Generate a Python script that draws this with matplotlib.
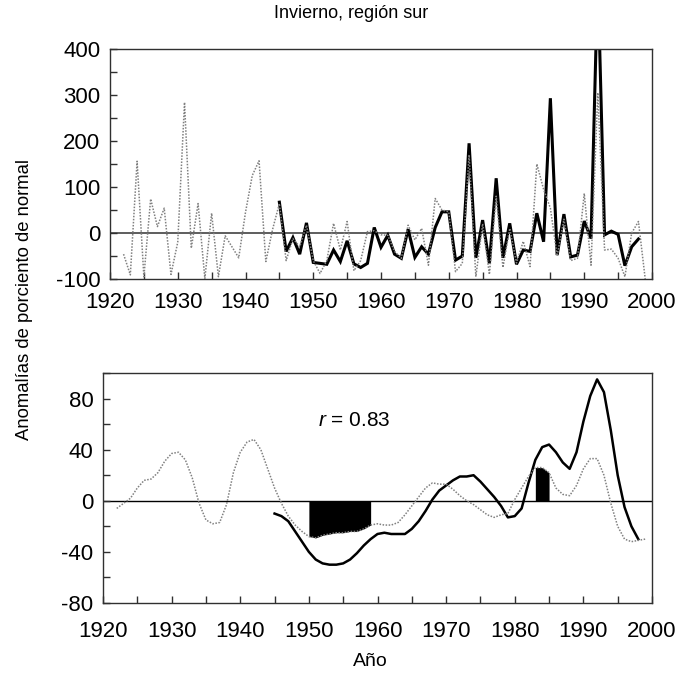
import numpy as np
import matplotlib
matplotlib.use("Agg")
import matplotlib.pyplot as plt
from matplotlib.ticker import MultipleLocator

plt.rcParams['font.family'] = ['Liberation Sans', 'DejaVu Sans']
plt.rcParams['mathtext.fontset'] = 'custom'
plt.rcParams['mathtext.it'] = 'Liberation Sans:italic'
plt.rcParams['mathtext.rm'] = 'Liberation Sans'
plt.rcParams['axes.unicode_minus'] = False

# ---- Top panel: annual anomalies ----
years_obs = list(range(1922, 2000))
obs_annual = [-46, -91, 156, -95, 74, 14, 54, -90, -20, 284,
              -33, 64, -99, 43, -95, -6, -30, -54, 45, 125,
              157, -62, 8, 64, -60, -12, -30, 17, -60, -88,
              -60, 21, -37, 25, -82, -60, 3, 5, -4, -5,
              -40, -55, 17, -15, 10, -70, 75, 50, 46, -84,
              -66, 170, -95, 20, -90, 80, -75, 10, -65, -18,
              -73, 150, 95, 54, -50, 30, -60, -55, 86, -70,
              305, -37, -35, -55, -95, 0, 25, -100]

years_rec = list(range(1945, 1999))
rec_annual = [67, -40, -10, -46, 22, -64, -66, -68, -37, -62,
              -17, -67, -75, -66, 12, -31, -5, -46, -55, 8,
              -53, -30, -46, 12, 46, 46, -59, -50, 195, -54,
              28, -66, 119, -54, 21, -68, -37, -40, 43, -19,
              293, -48, 41, -52, -48, 26, -12, 560, -4, 4,
              -3, -71, -30, -13]

# ---- Bottom panel: smoothed anomalies ----
obs_smooth = [-6, -2, 2, 10, 16, 17, 22, 31, 37, 38,
              32, 18, -2, -15, -18, -17, -3, 22, 38, 46,
              48, 40, 25, 10, -2, -12, -19, -24, -28, -29,
              -27, -26, -25, -25, -24, -24, -22, -19, -18, -19,
              -19, -17, -11, -4, 3, 10, 14, 13, 13, 9,
              4, 0, -3, -7, -11, -13, -11, -10, 1, 10,
              19, 26, 26, 22, 10, 5, 4, 12, 25, 33,
              33, 20, -2, -20, -30, -32, -31, -30]

rec_smooth = [-10, -12, -16, -24, -32, -40, -46, -49, -50, -50,
              -49, -46, -41, -35, -30, -26, -25, -26, -26, -26,
              -22, -16, -8, 1, 8, 12, 16, 19, 19, 20,
              15, 9, 3, -4, -13, -12, -6, 14, 32, 42,
              44, 38, 30, 25, 38, 62, 82, 95, 85, 55,
              20, -5, -20, -30]

shade_periods = [(1950, 1959), (1983, 1985)]

title = "Invierno, región sur"
ylabel = "Anomalías de porciento de normal"
xlabel = "Año"
r_text = r"$r$ = 0.83"

GRAY = "#808080"
FS = 16

fig = plt.figure(figsize=(6.79, 6.75), dpi=100)
W, H = 679, 675
ax1 = fig.add_axes([110 / W, 1 - 279 / H, 542 / W, 230 / H])
ax2 = fig.add_axes([103 / W, 1 - 603 / H, 549 / W, 230 / H])

def style(ax, ymaj, ymin, ylim, xpad):
    ax.set_xlim(1920, 2000)
    ax.set_ylim(*ylim)
    ax.xaxis.set_major_locator(MultipleLocator(10))
    ax.xaxis.set_minor_locator(MultipleLocator(5))
    ax.yaxis.set_major_locator(MultipleLocator(ymaj))
    ax.yaxis.set_minor_locator(MultipleLocator(ymin))
    ax.tick_params(which='both', direction='in', length=5, width=1,
                   top=False, right=False, colors='#303030',
                   labelcolor='black', labelsize=FS)
    ax.tick_params(axis='x', which='both', pad=xpad)
    ax.tick_params(axis='y', which='both', pad=7)
    for s in ax.spines.values():
        s.set_color('#303030')
        s.set_linewidth(1.0)

style(ax1, 100, 50, (-100, 400), 9)
style(ax2, 40, 20, (-80, 100), 13)

# top panel
ax1.axhline(0, color='#505050', lw=1.3, zorder=1)
ax1.plot(years_rec, rec_annual, color='black', lw=2.2, zorder=2,
         solid_joinstyle='miter')
ax1.plot(years_obs, obs_annual, color=GRAY, lw=1.1, ls=(0, (1, 1)),
         zorder=3)

# bottom panel
yo = np.array(years_obs)
so = np.array(obs_smooth, dtype=float)
for a, b in shade_periods:
    m = (yo >= a) & (yo <= b)
    ax2.fill_between(yo[m], 0, so[m], color='black', lw=0, zorder=2)
ax2.axhline(0, color='black', lw=1.0, zorder=1)
ax2.plot(years_rec, rec_smooth, color='black', lw=1.8, zorder=3)
ax2.plot(years_obs, obs_smooth, color=GRAY, lw=1.1, ls=(0, (1, 1)),
         zorder=4)
ax2.text(1951.3, 63, r_text, fontsize=15, va='center', ha='left')

fig.text(351 / W, 1 - 14 / H, title, ha='center', va='center', fontsize=13)
fig.text(25 / W, 1 - 300 / H, ylabel, ha='center', va='center',
         rotation=90, fontsize=13.3)
fig.text(370 / W, 1 - 662 / H, xlabel, ha='center', va='center', fontsize=14)

fig.savefig("out.png", dpi=100)
